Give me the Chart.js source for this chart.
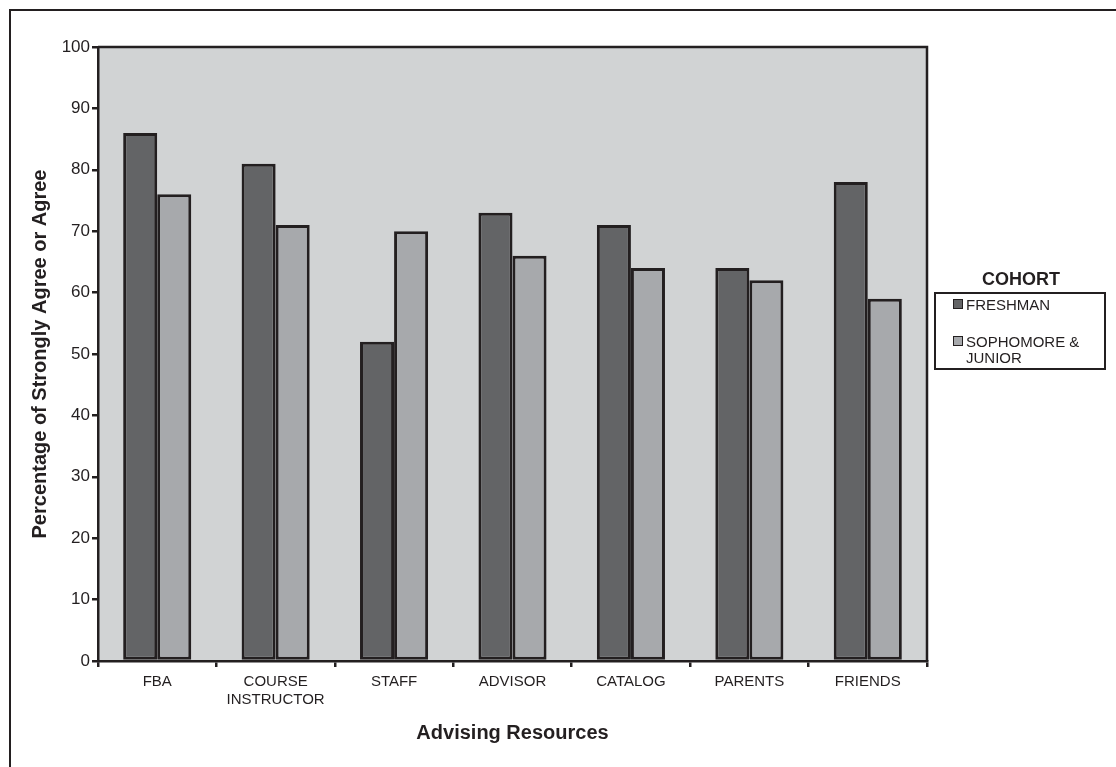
<!DOCTYPE html>
<html>
<head>
<meta charset="utf-8">
<script src="https://cdn.jsdelivr.net/npm/chart.js@4.4.1/dist/chart.umd.min.js"></script>
<style>
  html, body { margin: 0; padding: 0; background: #fff; overflow: hidden; }
  body { width: 1116px; height: 767px; position: relative; font-family: "Liberation Sans", Arial, sans-serif; color: #231f20; }
  #frame { position: absolute; left: 9px; top: 9px; width: 1200px; height: 900px; border: 2px solid #231f20; }
  #wrap { position: absolute; left: 0; top: 0; width: 1116px; height: 767px; }
  #legendTitle { position: absolute; left: 934px; width: 174px; top: 269px; text-align: center; font-weight: bold; font-size: 18px; }
  #legend { position: absolute; left: 934px; top: 292px; width: 168px; height: 74px; border: 2px solid #231f20; }
  .item { position: absolute; left: 17px; font-size: 15px; line-height: 16px; padding-left: 13px; }
  .swatch { position: absolute; left: 0; top: 2px; width: 8px; height: 8px; border: 1px solid #231f20; }
</style>
</head>
<body>
<div id="frame"></div>
<div id="wrap"><canvas id="chart" width="1116" height="767"></canvas></div>
<div id="legendTitle">COHORT</div>
<div id="legend"></div>
<script>
const categories = ['FBA', ['COURSE', 'INSTRUCTOR'], 'STAFF', 'ADVISOR', 'CATALOG', 'PARENTS', 'FRIENDS'];
const freshman = [86, 81, 52, 73, 71, 64, 78];
const sophJunior = [76, 71, 70, 66, 64, 62, 59];
const seriesNames = ['FRESHMAN', 'SOPHOMORE & JUNIOR'];
const seriesColors = ['#636466', '#a7a9ac'];
const yTicks = [0, 10, 20, 30, 40, 50, 60, 70, 80, 90, 100];

const ink = '#231f20';

// grey plot background plus top/right frame of the plot area
const plotFrame = {
  id: 'plotFrame',
  beforeDraw(chart) {
    const { ctx, chartArea: a } = chart;
    ctx.save();
    ctx.fillStyle = '#d1d3d4';
    ctx.fillRect(a.left, a.top, a.right - a.left, a.bottom - a.top);
    ctx.restore();
  },
  afterDraw(chart) {
    const { ctx, chartArea: a } = chart;
    ctx.save();
    ctx.strokeStyle = ink;
    ctx.lineWidth = 2.5;
    ctx.beginPath();
    ctx.moveTo(a.left, a.top);
    ctx.lineTo(a.right, a.top);
    ctx.lineTo(a.right, a.bottom);
    ctx.stroke();
    ctx.restore();
  }
};

new Chart(document.getElementById('chart'), {
  type: 'bar',
  data: {
    labels: categories,
    datasets: [
      { label: seriesNames[0], data: freshman, backgroundColor: seriesColors[0] },
      { label: seriesNames[1], data: sophJunior, backgroundColor: seriesColors[1] }
    ]
  },
  options: {
    responsive: false,
    animation: false,
    layout: { padding: { top: 47, right: 189, left: 0, bottom: 0 } },
    datasets: {
      bar: {
        borderColor: ink,
        borderWidth: 3,
        borderSkipped: false,
        categoryPercentage: 0.575,
        barPercentage: 1
      }
    },
    scales: {
      x: {
        afterFit: s => { s.height = 106; },
        grid: { offset: true, drawOnChartArea: false, drawTicks: true, tickLength: 6, color: ink, lineWidth: 2.5 },
        border: { color: ink, width: 2.5 },
        ticks: { color: ink, font: { family: 'Liberation Sans', size: 15 }, padding: 6, maxRotation: 0 },
        title: {
          display: true,
          text: 'Advising Resources',
          color: ink,
          font: { family: 'Liberation Sans', size: 20, weight: 'bold' },
          padding: { top: 0, bottom: 22 }
        }
      },
      y: {
        min: 0,
        max: 100,
        afterFit: s => { s.width = 98; },
        afterBuildTicks: s => { s.ticks = yTicks.map(v => ({ value: v })); },
        grid: { drawOnChartArea: false, drawTicks: true, tickLength: 6, color: ink, lineWidth: 2.5 },
        border: { color: ink, width: 2.5 },
        ticks: { color: ink, font: { family: 'Liberation Sans', size: 17 }, padding: 2 },
        title: {
          display: true,
          text: 'Percentage of Strongly Agree or Agree',
          color: ink,
          font: { family: 'Liberation Sans', size: 20, weight: 'bold' },
          padding: { top: 28, bottom: 0 }
        }
      }
    },
    plugins: {
      legend: { display: false },
      tooltip: { enabled: false }
    }
  },
  plugins: [plotFrame]
});

// legend box built from the series arrays
const legendEl = document.getElementById('legend');
const itemTops = [3, 40];
seriesNames.forEach((name, i) => {
  const item = document.createElement('div');
  item.className = 'item';
  item.style.top = itemTops[i] + 'px';
  item.style.width = '150px';
  const sw = document.createElement('span');
  sw.className = 'swatch';
  sw.style.background = seriesColors[i];
  item.appendChild(sw);
  item.appendChild(document.createTextNode(name));
  legendEl.appendChild(item);
});
</script>
</body>
</html>
